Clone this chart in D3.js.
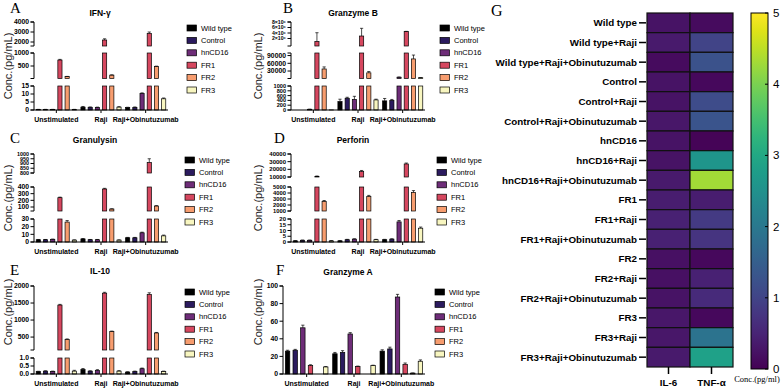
<!DOCTYPE html>
<html>
<head>
<meta charset="utf-8">
<script src="https://cdn.jsdelivr.net/npm/d3@7"></script>
<style>
  body { margin: 0; background: #fff; }
  svg { display: block; font-family: "Liberation Sans", Arial, sans-serif; }
</style>
</head>
<body>
<div id="canvas"></div>
<script>
var width = 784
var height = 388

var groups = ["Unstimulated", "Raji", "Raji+Obinutuzumab"]
var series = ["Wild type", "Control", "hnCD16", "FR1", "FR2", "FR3"]
var seriesColors = ["#000000", "#2b1b5e", "#6e2d78", "#d6475f", "#f79d6f", "#f8f6c0"]

// one row per series (Wild type..FR3), one column per group
var ifngMean = [[0.3, 1.8, 1.5], [0.3, 1.7, 1.6], [0.3, 1.6, 10.3], [730, 2200, 2850], [95, 150, 480], [0.3, 1.8, 7]]
var ifngErr = [[0.1, 0.4, 0.2], [0.1, 0.2, 0.3], [0.1, 0.2, 0.4], [25, 120, 150], [6, 10, 15], [0.1, 0.3, 0.5]]

var gzmbMean = [[0, 350, 380], [0, 490, 400], [30, 440, 6000], [900000, 2900000, 4500000], [38000, 23000, 77000], [5, 420, 4000]]
var gzmbErr = [[0, 100, 100], [0, 40, 40], [5, 130, 800], [3200000, 2800000, 100000], [8000, 5000, 15000], [0, 30, 500]]

var gnlyMean = [[3, 4, 5.5], [3, 3, 5.5], [3.5, 3, 12], [240, 370, 910], [26, 70, 115], [2.5, 2.5, 8]]
var gnlyErr = [[0.3, 0.5, 0.5], [0.3, 0.3, 0.5], [0.3, 0.3, 0.8], [8, 10, 40], [2, 3, 5], [0.3, 0.3, 1]]

var prfMean = [[1, 1, 2], [1.5, 2, 2.5], [1.5, 2.5, 17.5], [10500, 17000, 27000], [2600, 3400, 4100], [1, 2, 12]]
var prfErr = [[0.2, 0.2, 0.3], [0.2, 0.3, 0.3], [0.2, 0.3, 1.2], [800, 1500, 1200], [150, 200, 300], [0.2, 0.3, 1]]

var il10Mean = [[0.15, 0.28, 0.12], [0.18, 0.18, 0.15], [0.16, 0.22, 0.33], [1440, 1790, 1750], [430, 660, 620], [0.18, 0.18, 0.16]]
var il10Err = [[0.02, 0.06, 0.02], [0.02, 0.02, 0.03], [0.02, 0.05, 0.04], [20, 25, 50], [15, 15, 15], [0.05, 0.03, 0.02]]

var gzmaMean = [[26, 23, 26], [27, 24.5, 28.5], [52.5, 45.5, 87.5], [9.5, 8.5, 11], [0, 0, 1], [8, 9.5, 14.5]]
var gzmaErr = [[1, 1.5, 1.5], [1, 2, 2], [3, 1.5, 3], [1, 0.5, 1.5], [0, 0, 0.2], [0.5, 0.5, 1.5]]

// heatmap G
var heatRows = ["Wild type", "Wild type+Raji", "Wild type+Raji+Obinutuzumab",
    "Control", "Control+Raji", "Control+Raji+Obinutuzumab",
    "hnCD16", "hnCD16+Raji", "hnCD16+Raji+Obinutuzumab",
    "FR1", "FR1+Raji", "FR1+Raji+Obinutuzumab",
    "FR2", "FR2+Raji", "FR2+Raji+Obinutuzumab",
    "FR3", "FR3+Raji", "FR3+Raji+Obinutuzumab"]
var heatCols = ["IL-6", "TNF-α"]
var il6 = [0.25, 0.35, 0.15, 0.25, 0.25, 0.3, 0.25, 0.25, 0.35, 0.4, 0.45, 0.45, 0.2, 0.2, 0.25, 0.3, 0.3, 0.35]
var tnfa = [0.15, 1.0, 1.25, 0.1, 1.15, 1.3, 0.05, 2.6, 4.3, 0.4, 0.85, 0.75, 0.1, 0.45, 0.6, 0.1, 1.9, 2.85]
var colorTicks = [0, 1, 2, 3, 4, 5]

var svg = d3.select("#canvas")
    .append("svg")
    .attr("width", width)
    .attr("height", height)

var fmtInt = d3.format("d")
var fmtOne = d3.format(".1f")
var fmtSci = function (d) { return (d / 1e6) + "×10⁶" }

var panels = [
    {
        letter: "A", title: "IFN-γ", mean: ifngMean, err: ifngErr,
        axisX: 34, xEnd: 168, letterPos: [10, 13], titlePos: [100, 15.5], yTitlePos: [12, 66],
        catY: 122, legend: [187, 28],
        segs: [
            { d: [0, 15], y: [110, 86], t: [0, 5, 10, 15] },
            { d: [20, 1000], y: [78.5, 53], t: [500, 1000] },
            { d: [1600, 4000], y: [46, 22], t: [2000, 3000, 4000] }
        ]
    },
    {
        letter: "B", title: "Granzyme B", mean: gzmbMean, err: gzmbErr,
        axisX: 291, xEnd: 425, letterPos: [283, 13], titlePos: [353, 15.5], yTitlePos: [262, 66],
        catY: 122, legend: [440, 28],
        segs: [
            { d: [0, 1000], y: [110, 86], t: [0, 200, 400, 600, 800, 1000], fs: 5.6 },
            { d: [1000, 100000], y: [78.5, 53], t: [30000, 60000, 90000] },
            { d: [0, 8000000], y: [44, 22], t: [2000000, 4000000, 6000000, 8000000], fmt: fmtSci, bottom: 46, min: 100000, fs: 5.2 }
        ]
    },
    {
        letter: "C", title: "Granulysin", mean: gnlyMean, err: gnlyErr,
        axisX: 34, xEnd: 168, letterPos: [10, 143], titlePos: [95, 143], yTitlePos: [12, 198],
        catY: 254, legend: [185, 160],
        segs: [
            { d: [0, 30], y: [242, 219], t: [0, 10, 20, 30] },
            { d: [40, 400], y: [211, 187], t: [100, 200, 300, 400] },
            { d: [800, 1000], y: [173, 154], t: [800, 850, 900, 950, 1000], fs: 5.4 }
        ]
    },
    {
        letter: "D", title: "Perforin", mean: prfMean, err: prfErr,
        axisX: 291, xEnd: 425, letterPos: [274, 143], titlePos: [353, 143], yTitlePos: [262, 198],
        catY: 254, legend: [437, 160],
        segs: [
            { d: [0, 20], y: [242, 219], t: [0, 5, 10, 15, 20], fs: 6 },
            { d: [1000, 5000], y: [211, 187], t: [1000, 2000, 3000, 4000, 5000], fs: 5.8 },
            { d: [10000, 40000], y: [177, 154], t: [10000, 20000, 30000, 40000], fs: 6 }
        ]
    },
    {
        letter: "E", title: "IL-10", mean: il10Mean, err: il10Err,
        axisX: 34, xEnd: 168, letterPos: [10, 275], titlePos: [100, 274], yTitlePos: [12, 312],
        catY: 386, legend: [185, 292],
        segs: [
            { d: [0, 1], y: [374, 358], t: [0, 0.5, 1], fmt: fmtOne },
            { d: [120, 2000], y: [350, 286], t: [500, 1000, 1500, 2000] }
        ]
    },
    {
        letter: "F", title: "Granzyme A", mean: gzmaMean, err: gzmaErr,
        axisX: 283, xEnd: 425, letterPos: [276, 275], titlePos: [348, 275], yTitlePos: [262, 312],
        catY: 386, legend: [435, 292],
        segs: [
            { d: [0, 100], y: [374, 286], t: [0, 20, 40, 60, 80, 100] }
        ]
    }
]

panels.forEach(drawPanel)
drawHeatmap()

function drawPanel(p) {
    var g = svg.append("g").attr("class", "panel")
    var baseline = p.segs[0].y[0]

    var x0 = d3.scaleBand().domain(groups).range([p.axisX, p.xEnd]).paddingInner(0.1).paddingOuter(0.05)
    var x1 = d3.scaleBand().domain(series).range([0, x0.bandwidth()]).paddingInner(0.42)

    // bars, clipped into every axis segment they reach
    p.segs.forEach(function (seg, k) {
        var y = d3.scaleLinear().domain(seg.d).range(seg.y)
        var bottom = seg.bottom || seg.y[0]
        var lo = seg.min != null ? seg.min : seg.d[0]
        var cells = []
        series.forEach(function (s, si) {
            groups.forEach(function (gr, gi) {
                var v = p.mean[si][gi]
                if ((k == 0 && v > 0) || (k > 0 && v > lo)) {
                    cells.push({ s: s, si: si, g: gr, v: v, e: p.err[si][gi] })
                }
            })
        })
        g.selectAll(null)
            .data(cells)
            .enter()
            .append("rect")
            .attr("x", function (d) { return x0(d.g) + x1(d.s) })
            .attr("width", x1.bandwidth())
            .attr("y", function (d) { return y(Math.min(d.v, seg.d[1])) })
            .attr("height", function (d) { return bottom - y(Math.min(d.v, seg.d[1])) })
            .attr("fill", function (d) { return seriesColors[d.si] })
            .attr("stroke", "#000")
            .attr("stroke-width", 0.7)

        // error bars for the means that end inside this segment
        var ends = cells.filter(function (d) { return d.v <= seg.d[1] && d.e > 0 })
        ends.forEach(function (d) {
            var cx = x0(d.g) + x1(d.s) + x1.bandwidth() / 2
            var top = y(Math.min(d.v + d.e, seg.d[1] * 1.02))
            g.append("line").attr("x1", cx).attr("x2", cx)
                .attr("y1", y(d.v)).attr("y2", top)
                .attr("stroke", "#000").attr("stroke-width", 0.7)
            g.append("line").attr("x1", cx - 1.6).attr("x2", cx + 1.6)
                .attr("y1", top).attr("y2", top)
                .attr("stroke", "#000").attr("stroke-width", 0.7)
        })

        // axis piece
        var ax = g.append("g").attr("transform", "translate(" + p.axisX + ",0)")
        ax.append("line").attr("x1", 0).attr("x2", 0)
            .attr("y1", bottom).attr("y2", seg.y[1])
            .attr("stroke", "#000").attr("stroke-width", 1)
        var ends2 = [bottom, seg.y[1]]
        ends2.forEach(function (yy) {
            ax.append("line").attr("x1", -3.5).attr("x2", 0).attr("y1", yy).attr("y2", yy)
                .attr("stroke", "#000").attr("stroke-width", 1)
        })
        ax.selectAll(null)
            .data(seg.t)
            .enter()
            .append("line")
            .attr("x1", -3.5).attr("x2", 0)
            .attr("y1", function (d) { return y(d) })
            .attr("y2", function (d) { return y(d) })
            .attr("stroke", "#000").attr("stroke-width", 1)
        ax.selectAll(null)
            .data(seg.t)
            .enter()
            .append("text")
            .attr("x", -5)
            .attr("y", function (d) { return y(d) })
            .attr("dy", "0.34em")
            .attr("text-anchor", "end")
            .attr("font-size", seg.fs || 6.8)
            .attr("font-weight", "bold")
            .text(function (d) { return (seg.fmt || fmtInt)(d) })
    })

    // x axis
    g.append("line").attr("x1", p.axisX).attr("x2", p.xEnd)
        .attr("y1", baseline).attr("y2", baseline)
        .attr("stroke", "#000").attr("stroke-width", 1)
    g.selectAll(null)
        .data(groups)
        .enter()
        .append("line")
        .attr("x1", function (d) { return x0(d) + x0.bandwidth() / 2 })
        .attr("x2", function (d) { return x0(d) + x0.bandwidth() / 2 })
        .attr("y1", baseline).attr("y2", baseline + 3)
        .attr("stroke", "#000").attr("stroke-width", 1)
    g.selectAll(null)
        .data(groups)
        .enter()
        .append("text")
        .attr("x", function (d) { return x0(d) + x0.bandwidth() / 2 })
        .attr("y", p.catY)
        .attr("text-anchor", "middle")
        .attr("font-size", 7)
        .attr("font-weight", "bold")
        .text(function (d) { return d })

    // texts
    g.append("text").attr("x", p.letterPos[0]).attr("y", p.letterPos[1])
        .attr("font-family", "'Liberation Serif', 'Times New Roman', serif")
        .attr("font-size", 15).text(p.letter)
    g.append("text").attr("x", p.titlePos[0]).attr("y", p.titlePos[1])
        .attr("text-anchor", "middle").attr("font-size", 8.5).attr("font-weight", "bold")
        .text(p.title)
    g.append("text")
        .attr("transform", "translate(" + p.yTitlePos[0] + "," + p.yTitlePos[1] + ") rotate(-90)")
        .attr("text-anchor", "middle").attr("font-size", 11).attr("fill", "#222")
        .text("Conc.(pg/mL)")

    // legend
    var lg = g.append("g").attr("transform", "translate(" + p.legend[0] + "," + p.legend[1] + ")")
    var item = lg.selectAll(null)
        .data(series)
        .enter()
        .append("g")
        .attr("transform", function (d, i) { return "translate(0," + (i * 12.4) + ")" })
    item.append("rect")
        .attr("x", 0).attr("y", -3).attr("width", 9.5).attr("height", 6)
        .attr("fill", function (d, i) { return seriesColors[i] })
        .attr("stroke", "#000").attr("stroke-width", 0.7)
    item.append("text")
        .attr("x", 14).attr("dy", "0.34em")
        .attr("font-size", 7.5)
        .text(function (d) { return d })
}

function drawHeatmap() {
    var g = svg.append("g").attr("id", "heatmap")
    var xs = d3.scaleBand().domain(heatCols).range([647, 733])
    var ys = d3.scaleBand().domain(heatRows).range([13, 367])
    var color = d3.scaleSequential(d3.interpolateViridis).domain([0, 5])

    var cells = []
    heatRows.forEach(function (r, i) {
        cells.push({ row: r, col: heatCols[0], v: il6[i] })
        cells.push({ row: r, col: heatCols[1], v: tnfa[i] })
    })
    g.selectAll(".cell")
        .data(cells)
        .enter()
        .append("rect")
        .attr("class", "cell")
        .attr("x", function (d) { return xs(d.col) })
        .attr("y", function (d) { return ys(d.row) })
        .attr("width", xs.bandwidth())
        .attr("height", ys.bandwidth())
        .attr("fill", function (d) { return color(d.v) })
        .attr("stroke", "#111")
        .attr("stroke-width", 1.2)

    // row labels
    g.selectAll(null)
        .data(heatRows)
        .enter()
        .append("line")
        .attr("x1", 639).attr("x2", 646)
        .attr("y1", function (d) { return ys(d) + ys.bandwidth() / 2 })
        .attr("y2", function (d) { return ys(d) + ys.bandwidth() / 2 })
        .attr("stroke", "#000").attr("stroke-width", 1.5)
    g.selectAll(null)
        .data(heatRows)
        .enter()
        .append("text")
        .attr("x", 637)
        .attr("y", function (d) { return ys(d) + ys.bandwidth() / 2 })
        .attr("dy", "0.35em")
        .attr("text-anchor", "end")
        .attr("font-size", 9.8)
        .attr("font-weight", "bold")
        .text(function (d) { return d })

    // column labels
    g.selectAll(null)
        .data(heatCols)
        .enter()
        .append("line")
        .attr("x1", function (d) { return xs(d) + xs.bandwidth() / 2 })
        .attr("x2", function (d) { return xs(d) + xs.bandwidth() / 2 })
        .attr("y1", 367).attr("y2", 374)
        .attr("stroke", "#000").attr("stroke-width", 1.5)
    g.selectAll(null)
        .data(heatCols)
        .enter()
        .append("text")
        .attr("x", function (d) { return xs(d) + xs.bandwidth() / 2 })
        .attr("y", 386)
        .attr("text-anchor", "middle")
        .attr("font-size", 9.8)
        .attr("font-weight", "bold")
        .text(function (d) { return d })

    // colour bar
    var cy = d3.scaleLinear().domain([0, 5]).range([369, 13])
    var defs = svg.append("defs")
    var grad = defs.append("linearGradient").attr("id", "viridis")
        .attr("x1", 0).attr("y1", 1).attr("x2", 0).attr("y2", 0)
    d3.range(0, 1.0001, 0.05).forEach(function (t) {
        grad.append("stop").attr("offset", t).attr("stop-color", d3.interpolateViridis(t))
    })
    g.append("rect").attr("x", 751).attr("y", 13).attr("width", 17).attr("height", 356)
        .attr("fill", "url(#viridis)").attr("stroke", "#000").attr("stroke-width", 1)
    g.selectAll(null)
        .data(colorTicks)
        .enter()
        .append("line")
        .attr("x1", 765).attr("x2", 768)
        .attr("y1", function (d) { return cy(d) })
        .attr("y2", function (d) { return cy(d) })
        .attr("stroke", "#000").attr("stroke-width", 1)
    g.selectAll(null)
        .data(colorTicks)
        .enter()
        .append("text")
        .attr("x", 773)
        .attr("y", function (d) { return cy(d) })
        .attr("dy", "0.35em")
        .attr("font-size", 11.5)
        .text(function (d) { return d })

    g.append("text").attr("x", 757).attr("y", 382)
        .attr("text-anchor", "middle")
        .attr("font-family", "'Liberation Serif', 'Times New Roman', serif")
        .attr("font-size", 8.5)
        .text("Conc.(pg/ml)")
    g.append("text").attr("x", 491).attr("y", 16)
        .attr("font-family", "'Liberation Serif', 'Times New Roman', serif")
        .attr("font-size", 16)
        .text("G")
}
</script>
</body>
</html>
